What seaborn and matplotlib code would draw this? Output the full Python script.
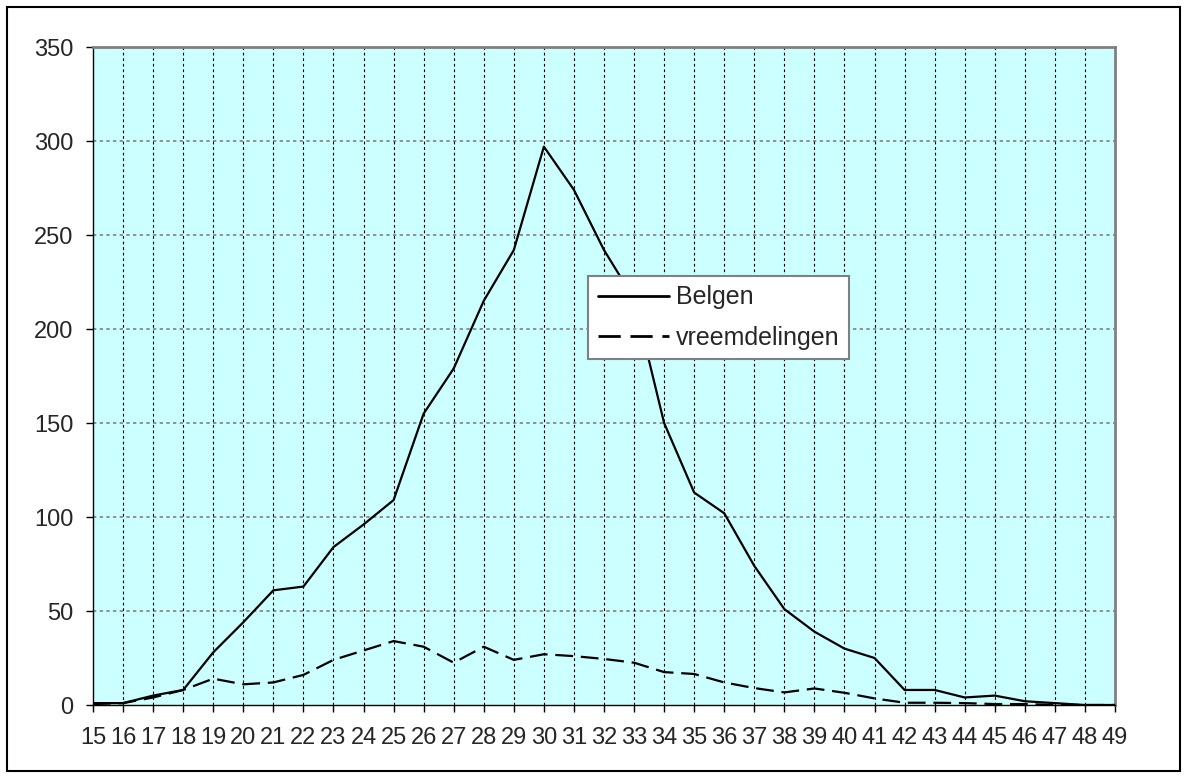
import matplotlib
matplotlib.use("Agg")
import matplotlib.pyplot as plt
import seaborn as sns
import pandas as pd
from matplotlib.patches import Rectangle

ages = list(range(15, 50))
belgen = [1, 1, 5, 8, 28, 44, 61, 63, 84, 96, 109, 155, 179, 215, 242, 297, 274, 242, 216, 150,
          113, 102, 74, 51, 39, 30, 25, 8, 8, 4, 5, 2, 1, 0, 0]
vreemdelingen = [0.5, 1, 4, 8, 14, 11, 12, 16, 24, 29, 34, 31, 22.5, 31, 24, 27, 26, 24.5, 22.5, 17.5,
                 16.5, 12, 9, 6.7, 8.8, 6.5, 3.5, 1.2, 1.2, 1, 0.5, 0.5, 0, 0, 0]
series_names = ["Belgen", "vreemdelingen"]
y_ticks = [0, 50, 100, 150, 200, 250, 300, 350]

df = pd.DataFrame({
    "age": ages * 2,
    "value": belgen + vreemdelingen,
    "serie": [series_names[0]] * len(ages) + [series_names[1]] * len(ages),
})

sns.set_theme(style="white")
plt.rcParams["font.family"] = ["Liberation Sans", "DejaVu Sans"]

fig = plt.figure(figsize=(11.88, 7.78), dpi=100)
ax = fig.add_axes([93 / 1188, 1 - 705 / 778, (1115 - 93) / 1188, (705 - 47) / 778])
ax.set_facecolor("#CCFFFF")

sns.lineplot(data=df, x="age", y="value", style="serie",
             dashes={"Belgen": "", "vreemdelingen": (8, 3.5)},
             color="black", linewidth=1.6, ax=ax, legend=True, zorder=3)

ax.set_xlim(15, 49)
ax.set_ylim(0, 350)
ax.set_xticks(ages)
ax.set_xticklabels([str(a) for a in ages])
ax.set_yticks(y_ticks)
ax.set_yticklabels([str(v) for v in y_ticks])
ax.set_xlabel("")
ax.set_ylabel("")
ax.tick_params(axis="both", which="major", labelsize=17, length=5, width=1, color="black",
               direction="out", left=True, bottom=True)
ax.tick_params(axis="y", pad=9)
ax.tick_params(axis="x", pad=11)

for v in y_ticks[1:-1]:
    ax.axhline(v, color="#808080", linestyle=(0, (2, 2)), linewidth=1.2, zorder=1)
for a in ages[1:-1]:
    ax.axvline(a, color="black", linestyle=(0, (2.5, 2.5)), linewidth=0.8, zorder=1)

for s in ["top", "right"]:
    ax.spines[s].set_color("#808080")
    ax.spines[s].set_linewidth(2)
for s in ["left", "bottom"]:
    ax.spines[s].set_color("black")
    ax.spines[s].set_linewidth(1)

leg = ax.legend(loc="upper left", bbox_to_anchor=(588 / 1188, 1 - 276 / 778),
                bbox_transform=fig.transFigure, fontsize=18, frameon=True, fancybox=False,
                edgecolor="#808080", handlelength=2.85, handletextpad=0.27, labelspacing=0.65,
                borderpad=0.38, borderaxespad=0, framealpha=1)
leg.get_frame().set_linewidth(1.5)
for h in leg.get_lines():
    h.set_linewidth(2)

fig.patches.append(Rectangle((7 / 1188, 7 / 778), 1173 / 1188, 764 / 778,
                             transform=fig.transFigure, fill=False, edgecolor="black",
                             linewidth=1.5))

fig.savefig("out.png", dpi=100)
